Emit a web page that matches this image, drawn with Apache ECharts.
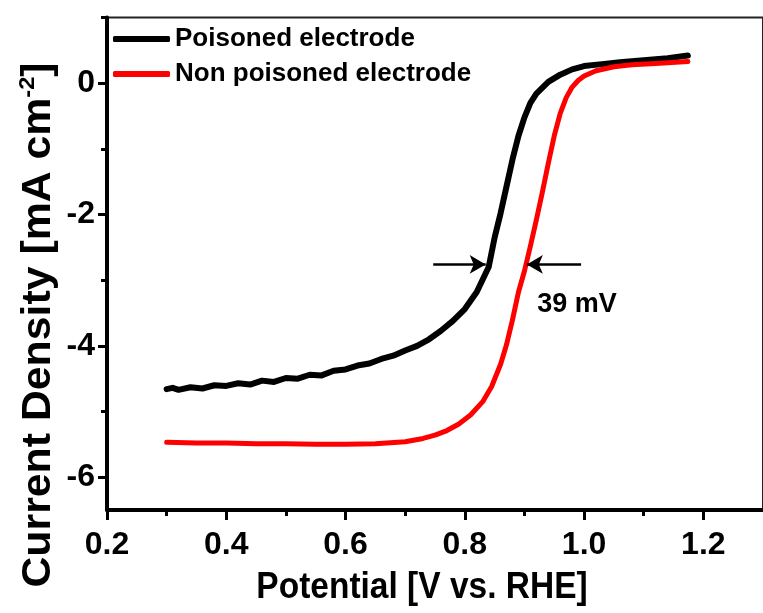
<!DOCTYPE html>
<html>
<head>
<meta charset="utf-8">
<script src="https://cdn.jsdelivr.net/npm/echarts@6/dist/echarts.min.js"></script>
<style>
html,body{margin:0;padding:0;background:#fff;}
#chart{width:763px;height:613px;}
</style>
</head>
<body>
<div id="chart"></div>
<script>
// ---- data ----
const seriesNames = ['Poisoned electrode', 'Non poisoned electrode'];
const poisonedX = [0.300,0.31,0.32,0.34,0.36,0.38,0.40,0.42,0.44,0.46,0.48,0.50,0.52,0.54,0.56,0.58,0.60,0.62,0.64,0.66,0.68,0.70,0.72,0.74,0.76,0.78,0.80,0.82,0.84,0.85,0.86,0.87,0.88,0.89,0.90,0.91,0.92,0.94,0.96,0.98,1.00,1.03,1.06,1.10,1.14,1.174];
const poisonedY = [-4.66,-4.64,-4.67,-4.63,-4.65,-4.60,-4.61,-4.57,-4.59,-4.53,-4.55,-4.49,-4.50,-4.44,-4.45,-4.38,-4.36,-4.30,-4.27,-4.20,-4.15,-4.07,-4.00,-3.90,-3.77,-3.62,-3.44,-3.18,-2.80,-2.35,-1.98,-1.57,-1.16,-0.80,-0.52,-0.30,-0.16,0.02,0.13,0.21,0.26,0.29,0.32,0.35,0.38,0.42];
const nonPoisonedX = [0.30,0.35,0.40,0.45,0.50,0.55,0.60,0.65,0.70,0.73,0.75,0.77,0.79,0.81,0.83,0.845,0.86,0.87,0.88,0.89,0.90,0.91,0.92,0.93,0.94,0.95,0.96,0.97,0.98,0.99,1.00,1.02,1.05,1.08,1.12,1.174];
const nonPoisonedY = [-5.47,-5.48,-5.48,-5.49,-5.49,-5.50,-5.50,-5.49,-5.46,-5.41,-5.36,-5.29,-5.19,-5.05,-4.85,-4.62,-4.28,-3.98,-3.60,-3.18,-2.86,-2.48,-2.08,-1.66,-1.22,-0.80,-0.46,-0.22,-0.06,0.04,0.11,0.19,0.25,0.28,0.30,0.33];
const xMajorTicks = [0.2,0.4,0.6,0.8,1.0,1.2];
const xMinorTicks = [0.3,0.5,0.7,0.9,1.1];
const yMajorTicks = [-6,-4,-2,0];
const yMinorTicks = [-5,-3,-1,1];
const arrowLeft = [[0.747,-2.76],[0.835,-2.76]];
const arrowRight = [[0.995,-2.76],[0.904,-2.76]];
const annotText = '39 mV';
const annotPos = [0.988,-3.37];
const xTitle = 'Potential [V vs. RHE]';
const yTitle = 'Current Density [mA cm';

const FONT = '"Liberation Sans", Arial, sans-serif';
const zip = (xs, ys) => xs.map((x, i) => [x, ys[i]]);

const chart = echarts.init(document.getElementById('chart'), null, {renderer: 'canvas'});
const grid = {left: 107, top: 17.5, width: 664, height: 492.5, show: true, borderColor: '#222', borderWidth: 2, backgroundColor: 'transparent'};

chart.setOption({
  animation: false,
  backgroundColor: '#fff',
  grid: grid,
  legend: {
    orient: 'vertical', left: 108, top: 19,
    itemWidth: 57, itemHeight: 6, itemGap: 5, icon: 'roundRect',
    textStyle: {fontFamily: FONT, fontWeight: 'bold', fontSize: 26, color: '#000', lineHeight: 30},
    data: seriesNames
  },
  xAxis: [{
    type: 'value', min: 0.2, max: 1.3, position: 'bottom',
    axisLine: {show: true, onZero: false, lineStyle: {color: '#000', width: 4}},
    axisTick: {show: true, customValues: xMajorTicks, length: 10, lineStyle: {color: '#000', width: 3}},
    axisLabel: {show: true, customValues: xMajorTicks, margin: 19, formatter: v => v.toFixed(1),
      fontFamily: FONT, fontWeight: 'bold', fontSize: 32, color: '#000'},
    splitLine: {show: false}
  }, {
    type: 'value', min: 0.2, max: 1.3, position: 'bottom',
    axisLine: {show: false, onZero: false},
    axisTick: {show: true, customValues: xMinorTicks, length: 6, lineStyle: {color: '#000', width: 3}},
    axisLabel: {show: false}, splitLine: {show: false}
  }],
  yAxis: [{
    type: 'value', min: -6.5, max: 1, position: 'left',
    axisLine: {show: true, onZero: false, lineStyle: {color: '#000', width: 4}},
    axisTick: {show: true, customValues: yMajorTicks, length: 9, lineStyle: {color: '#000', width: 3}},
    axisLabel: {show: true, customValues: yMajorTicks, margin: 12, formatter: v => String(v),
      fontFamily: FONT, fontWeight: 'bold', fontSize: 32, color: '#000'},
    splitLine: {show: false}
  }, {
    type: 'value', min: -6.5, max: 1, position: 'left',
    axisLine: {show: false, onZero: false},
    axisTick: {show: true, customValues: yMinorTicks, length: 6, lineStyle: {color: '#000', width: 3}},
    axisLabel: {show: false}, splitLine: {show: false}
  }],
  series: [{
    name: seriesNames[0], type: 'line', data: zip(poisonedX, poisonedY),
    showSymbol: false, symbol: 'none', color: '#000',
    lineStyle: {color: '#000', width: 6, cap: 'round', join: 'round'},
    markLine: {
      silent: true, symbol: ['none', 'arrow'], symbolSize: [14, 16],
      lineStyle: {color: '#000', width: 2.5, type: 'solid'}, label: {show: false},
      data: [
        [{coord: arrowLeft[0]}, {coord: arrowLeft[1]}],
        [{coord: arrowRight[0]}, {coord: arrowRight[1]}]
      ]
    },
    markPoint: {
      silent: true, symbol: 'circle', symbolSize: 1, itemStyle: {color: 'rgba(0,0,0,0)'},
      label: {show: true, position: 'inside', formatter: annotText, fontFamily: FONT, fontWeight: 'bold', fontSize: 27, color: '#000'},
      data: [{coord: annotPos}]
    }
  }, {
    name: seriesNames[1], type: 'line', data: zip(nonPoisonedX, nonPoisonedY),
    showSymbol: false, symbol: 'none', color: '#ff0000',
    lineStyle: {color: '#ff0000', width: 5, cap: 'round', join: 'round'}
  }],
  graphic: [{
    type: 'text', x: 422, y: 588, scaleY: 1.12,
    style: {text: xTitle, fontFamily: FONT, fontWeight: 'bold', fontSize: 33.5, fill: '#000', align: 'center', verticalAlign: 'middle'}
  }, {
    type: 'text', x: 39, y: 325, rotation: Math.PI / 2, scaleX: 1.07,
    style: {
      text: '{a|' + yTitle + '}{s|-2}{a|]}',
      align: 'center', verticalAlign: 'middle',
      rich: {
        a: {fontFamily: FONT, fontWeight: 'bold', fontSize: 40, fill: '#000', lineHeight: 44},
        s: {fontFamily: FONT, fontWeight: 'bold', fontSize: 22, fill: '#000', verticalAlign: 'top', lineHeight: 44, padding: [0, 0, 20, 0]}
      }
    }
  }]
});
</script>
</body>
</html>
